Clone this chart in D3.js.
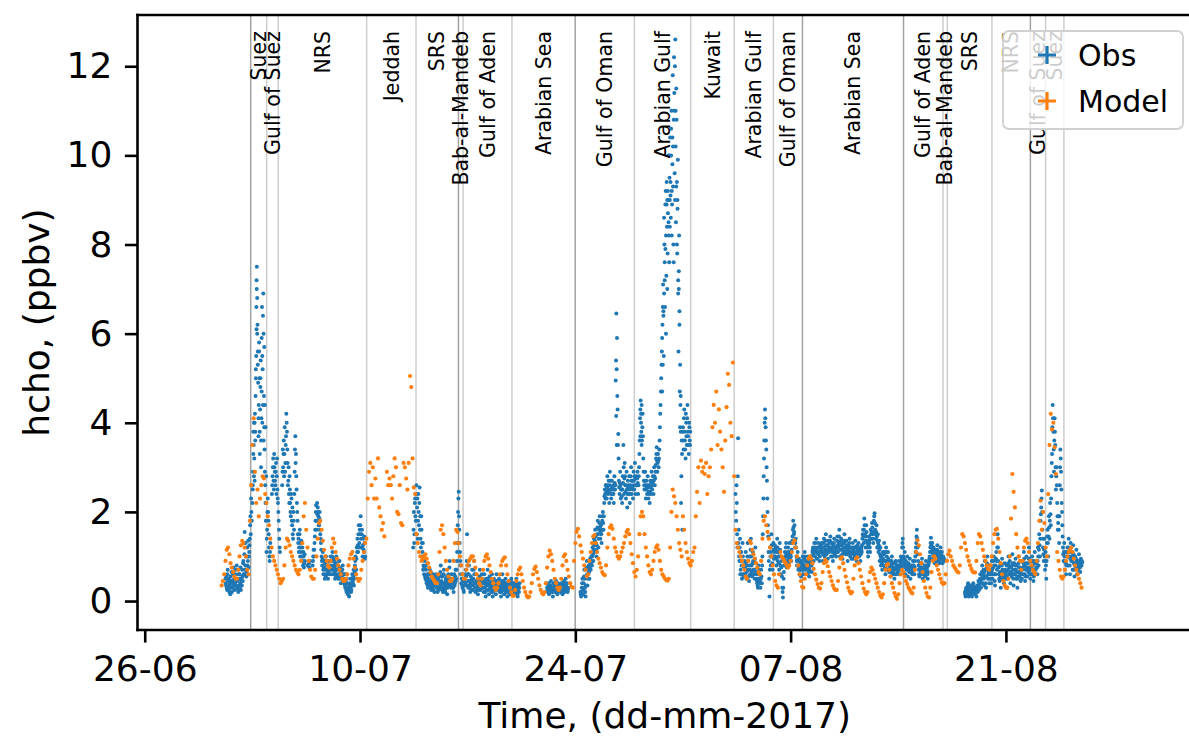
<!DOCTYPE html>
<html><head><meta charset="utf-8">
<script src="https://cdn.jsdelivr.net/npm/d3@7"></script>
<style>body{margin:0;background:#fff;} svg{display:block;font-family:"DejaVu Sans",sans-serif;}</style>
</head><body><svg id="chart" width="1189" height="737"></svg>
<script>
// ---------- data ----------
const tickDates = ["2017-06-26","2017-07-10","2017-07-24","2017-08-07","2017-08-21"];
const tickLabels = ["26-06","10-07","24-07","07-08","21-08"];
const yTicks = [0,2,4,6,8,10,12];

const regionNames = ["Suez","Gulf of Suez","NRS","Jeddah","SRS","Bab-al-Mandeb","Gulf of Aden","Arabian Sea",
  "Gulf of Oman","Arabian Gulf","Kuwait","Arabian Gulf","Gulf of Oman","Arabian Sea","Gulf of Aden",
  "Bab-al-Mandeb","SRS","NRS","Gulf of Suez","Suez"];
const regionBounds = ["2017-07-02T21:22","2017-07-03T22:19","2017-07-04T16:19","2017-07-10T10:19","2017-07-13T15:22",
  "2017-07-16T09:36","2017-07-16T16:48","2017-07-19T21:07","2017-07-23T23:46","2017-07-27T20:10","2017-07-31T12:00",
  "2017-08-03T07:55","2017-08-05T21:07","2017-08-07T18:29","2017-08-14T08:10","2017-08-16T21:50","2017-08-17T04:34",
  "2017-08-20T02:10","2017-08-22T14:10","2017-08-23T13:55","2017-08-24T18:29"];

// Obs: values on the hour, one row per day starting 2017-07-01
const obsStart = "2017-07-01T00:00:00Z";
const obsStepHours = 1;
const obsByDay = [
 [null,null,null,null,null,null,0.5,0.35,0.3,0.6,0.45,0.25,0.2,0.4,0.55,0.3,0.2,0.45,0.6,0.35,0.25,0.5,0.7,0.45],
 [0.3,0.5,0.2,0.35,0.6,0.4,0.25,0.5,0.7,0.45,0.9,0.6,1.55,0.8,1.0,0.65,1.2,0.9,0.75,1.1,1.4,1.9,2.3,1.8],
 [2.2,2.9,3.5,3.2,4.2,4.6,5.5,7.5,6.2,4.9,4.4,5.0,4.3,5.4,4.1,6.6,5.2,6.9,4.6,3.4,2.6,1.8,1.1,1.6],
 [2.3,1.8,1.2,0.9,1.3,null,null,2.6,3.0,2.7,3.3,2.9,2.6,3.1,2.8,2.5,2.2,1.8,1.4,1.1,null,null,null,2.9],
 [3.0,3.6,3.3,2.9,3.5,4.2,3.8,3.1,2.7,2.4,2.8,2.2,1.9,2.3,1.7,1.5,2.0,1.6,2.9,3.7,3.3,2.5,2.0,1.5],
 [1.4,1.2,1.6,1.3,1.1,0.9,1.2,0.8,1.0,0.85,0.9,null,null,null,0.8,null,null,0.75,0.9,null,null,null,0.8,1.0],
 [1.0,1.3,1.6,2.0,1.8,2.2,2.1,1.9,1.7,2.0,1.5,1.3,1.0,0.8,1.1,0.6,0.9,0.5,0.7,1.0,0.6,0.8,0.5,0.7],
 [0.8,0.6,1.0,0.7,0.9,1.1,0.8,0.6,0.9,0.5,0.7,1.0,0.6,0.8,0.5,0.7,0.9,0.6,0.4,0.7,0.5,0.8,0.6,0.4],
 [0.5,0.3,0.6,0.2,0.4,0.15,0.3,0.1,0.25,0.5,0.2,0.35,0.6,0.4,0.7,0.5,0.8,1.0,0.7,1.2,1.4,1.1,1.7,1.3],
 [1.5,1.9,1.2,1.6,1.0,1.4,1.1,1.3,1.0],
 [],
 [],
 [null,null,null,null,null,null,null,null,null,null,null,1.2,2.0,1.5,2.3,1.8,2.6,2.1,1.4,2.4,1.7,2.55,1.9,1.2],
 [1.6,1.0,1.3,0.8,0.6,0.9,0.5,0.7,0.4,0.6,0.3,0.5,0.35,0.7,0.45,0.25,0.55,0.3,0.6,0.4,0.2,0.5,0.35,0.6],
 [0.4,0.2,0.5,0.3,0.6,0.35,0.8,0.45,0.25,0.55,0.3,0.7,0.4,0.2,0.5,0.3,0.15,0.45,0.6,0.35,0.9,0.5,0.3,0.6],
 [0.3,0.5,0.2,0.6,0.4,0.7,0.5,0.9,1.3,2.0,2.45,1.6,1.1,0.8,0.4,0.6,0.3,0.5,0.2,0.45,0.6,0.7,0.35,1.5],
 [0.6,0.3,0.8,0.45,0.2,0.55,0.35,0.7,0.25,0.5,0.9,0.4,0.2,0.6,0.3,0.45,0.15,0.5,0.35,0.7,0.25,0.4,0.6,0.3],
 [0.4,0.2,0.6,0.3,0.1,0.5,0.25,0.7,0.35,0.15,0.55,0.3,0.45,0.2,0.6,0.1,0.35,0.5,0.25,0.4,0.15,0.6,0.3,0.45],
 [0.3,0.5,0.2,0.4,0.1,0.35,0.6,0.25,0.45,0.15,0.3,0.5,0.2,0.4,0.1,0.3,0.25,0.45,0.15,0.35,0.5,0.2,0.3,0.4],
 [0.3,0.15,0.4,0.2,0.5,0.25,0.1,0.35,0.2,0.4],
 [],
 [null,null,null,null,0.3,0.2,0.4,0.15,0.35,0.25,0.45,0.2,0.3,0.1,0.4,0.25,0.35,0.2,0.45,0.3,0.15,0.4,0.25,0.35],
 [0.3,0.2,0.4,0.25,0.15,0.35,0.45,0.2,0.3,0.5,0.25,0.4,0.2,0.3],
 [null,null,null,null,null,null,null,null,0.2,0.1,0.3,0.5,0.15,0.4,0.7,0.3,0.1,0.55,0.9,0.35,0.6,0.8,0.5,0.95],
 [0.7,1.0,0.8,1.2,0.9,1.4,1.1,1.6,1.3,1.0,1.5,1.8,1.2,1.6,1.9,1.4,1.7,1.3,1.8,2.0,1.6,2.2,2.5,2.3],
 [2.6,2.3,2.8,2.4,2.7,2.2,2.9,2.5,2.3,2.7,2.4,2.6,2.2,2.8,2.5,4.95,6.45,5.9,4.3,3.75,2.7,2.4,2.9,2.3],
 [2.5,2.2,2.8,3.5,2.4,3.1,2.6,2.3,2.9,2.1,2.7,2.4,2.8,2.2,2.6,3.0,2.4,2.7,2.3,2.9,2.5,3.1,2.4,2.8],
 [2.6,2.9,2.4,2.8,3.3,4.1,4.5,3.8,3.6,4.2,3.2,2.7,2.5,2.9,2.3,2.7,2.4,2.8,2.3,2.6,2.2,2.7,2.4,2.9],
 [2.5,2.8,2.4,3.0,2.6,2.9,3.2,3.45,2.9,3.3,3.0,3.4,3.9,4.4,5.0,5.6,6.2,7.1,5.5,8.0,6.6,9.2,7.3,8.4],
 [7.8,9.0,8.2,9.5,10.4,8.6,11.0,8.9,11.8,8.0,12.2,9.6,12.6,8.5,10.8,7.8,9.9,5.6,8.2,4.7,4.4,2.2,3.6,1.6],
 [3.9,3.4,4.3,3.6,3.2,4.0,3.5,4.4,3.7,3.3,3.9,3.5],
 [],
 [],
 [null,null,null,null,null,null,null,null,null,null,2.4,1.8,2.2,1.2,3.65,1.6,0.9,1.4,0.7,1.1,0.5,1.3,0.8,0.6],
 [0.9,0.6,1.1,0.5,0.8,1.3,0.7,0.45,1.0,0.6,1.4,0.8,0.55,1.1,0.7,0.9,0.5,1.2,0.65,0.6,0.4,0.3,0.8,0.6],
 [0.5,0.3,0.7,0.4,1.0,1.9,2.8,3.6,4.3,3.9,3.4,2.7,2.0,1.45,0.9,0.1,1.2,0.8,1.5,1.0,0.7,1.3,0.95,1.1],
 [1.0,1.2,0.8,1.4,0.9,1.1,0.7,1.3,1.0,0.6,0.9,0.3,0.08,0.5,0.8,1.1,0.9,1.3,0.75,1.0,1.2,0.85,1.1,0.95],
 [1.1,0.9,1.3,1.45,1.8,1.5,1.7,1.2,1.4,1.0,0.8,1.1,0.7,0.95,0.6,0.85,0.55,0.9,0.7,1.0,0.6,0.8,1.1,0.9],
 [0.7,0.9,0.6,1.0,0.75,0.55,0.9,0.8,1.0,0.65,1.1,1.2,0.9,1.3,1.0,1.15,1.4,0.95,1.2,1.05,1.3,0.9,1.1,1.25],
 [1.1,1.3,0.9,1.2,1.4,1.0,1.15,1.5,1.05,1.25,0.95,1.35,1.1,1.2,1.45,1.0,1.3,1.1,0.9,1.25,1.4,1.05,1.2,1.0],
 [1.2,1.45,1.1,1.3,1.6,1.0,1.25,1.4,1.15,0.95,1.3,1.1,1.5,1.2,1.05,1.35,1.15,0.9,1.25,1.1,1.4,1.0,1.2,0.95],
 [1.1,1.3,0.95,1.2,1.0,1.35,1.1,0.9,1.25,1.05,1.3,1.0,1.15,0.9,1.2,1.1,1.4,1.6,1.3,1.85,1.5,1.2,1.7,1.35],
 [1.2,1.0,1.45,1.3,1.1,1.6,1.4,1.75,1.5,1.3,1.8,1.97,1.6,1.4,1.7,1.2,1.5,1.1,1.35,0.9,1.2,0.8,1.0,0.7],
 [1.1,0.8,1.3,0.9,0.6,1.2,1.0,0.7,1.1,0.8,0.65,0.9,0.55,0.8,1.0,0.7,0.6,0.85,0.5,0.75,0.9,0.6,0.8,0.65],
 [0.7,0.9,0.6,0.8,1.0,0.75,1.2,1.4,1.0,0.8,1.1,0.6,0.9,0.7,1.0,0.55,0.85,0.65,0.95,0.5,0.8,0.7,0.6,0.9],
 [0.8,0.6,0.9,1.1,1.3,1.6,1.2,0.9,0.7,0.55,0.85,0.6,0.75,0.95,0.5,0.7,0.6,0.8,0.55,0.9,0.65,0.75,0.5,0.8],
 [0.9,1.0,1.2,1.42,1.1,1.3,0.95,1.2,1.0,0.85,1.15,0.9,1.05,1.25,0.9,1.1,0.85,1.0,1.2,0.95,1.1,0.85,1.0,0.9],
 [],
 [null,null,null,null,null,null,null,null,0.2,0.1,0.3,0.15,0.25,0.4,0.1,0.2,0.35,0.15,0.3,0.1,0.25,0.4,0.2,0.3],
 [0.15,0.3,0.1,0.35,0.2,0.45,0.25,0.4,0.6,0.3,0.5,0.8,0.4,0.7,0.35,0.9,0.55,0.3,0.75,1.0,0.5,0.65,0.4,0.8],
 [0.6,0.4,0.9,0.5,0.75,1.0,0.6,0.35,0.8,1.1,0.7,1.5,0.9,0.6,0.45,0.8,0.3,0.65,0.95,0.5,0.7,0.4,0.85,0.6],
 [0.5,0.8,0.3,0.7,1.0,0.6,0.9,0.4,0.75,0.55,1.05,0.7,0.35,0.85,0.6,0.95,0.5,0.8,0.3,0.65,1.0,0.55,0.75,0.45],
 [0.7,0.5,0.9,0.6,1.1,0.8,0.45,0.7,1.0,0.55,0.85,0.65,1.2,0.75,0.5,0.9,0.6,1.0,0.8,0.45,0.7,1.1,0.6,0.85],
 [0.9,0.6,1.2,0.8,1.5,1.0,1.8,2.1,2.48,1.6,1.2,0.9,1.4,0.7,1.1,0.5,1.3,1.6,1.0,1.9,1.4,2.2,1.7,2.8],
 [3.3,4.4,3.8,2.9,4.1,3.5,2.5,3.0,2.2,1.6,1.9,1.3,2.6,3.4,2.9,2.2,1.7,1.2,0.9,1.3,0.7,1.1,0.6,1.0],
 [1.2,0.8,1.4,1.0,0.6,1.3,0.9,1.1,0.7,1.25,0.85,0.55,1.0,0.75,1.15,0.6,0.9,0.7,1.05,0.8,0.65,0.95,0.8,0.87]
];
// Obs: values on the half hour (hh:30), same day rows
const obsHalfByDay = [
 [null,null,null,null,null,null,0.4,0.55,0.25,0.7,0.3,0.5,0.35,0.15,0.45,0.65,0.4,0.3,0.75,0.5,0.4,0.6,0.35,0.8],
 [0.45,0.25,0.6,0.5,0.3,0.75,0.45,0.35,0.55,0.85,0.6,1.05,0.7,1.3,0.55,1.0,0.8,1.35,1.0,1.25,1.7,1.5,2.0,2.6],
 [2.5,3.3,4.0,2.7,3.8,5.2,6.1,6.8,5.3,4.1,5.6,3.8,5.0,3.6,4.7,5.5,4.4,6.0,3.9,4.4,2.2,2.8,1.4,2.0],
 [2.0,1.5,1.0,1.1,null,null,2.4,2.8,3.2,2.5,3.0,2.7,2.9,2.4,3.2,2.3,2.0,1.6,1.2,null,null,null,2.6,3.4],
 [3.3,2.8,3.9,3.1,3.7,4.0,3.4,2.6,3.0,2.2,2.5,2.0,2.4,1.8,2.1,1.4,1.8,2.4,3.4,3.1,2.8,2.2,1.8,1.3],
 [1.1,1.5,1.0,1.2,1.35,1.0,0.9,1.1,0.75,1.05,null,null,null,null,null,null,0.85,null,null,null,null,null,0.9,1.15],
 [1.15,1.45,1.8,2.15,1.6,1.95,2.0,1.7,1.85,1.6,1.4,1.15,0.9,0.95,0.7,0.75,0.6,0.85,0.55,0.8,0.7,0.6,0.65,0.9],
 [0.7,0.9,0.8,0.6,1.0,0.7,0.95,0.75,0.65,0.85,0.55,0.8,0.7,0.55,0.9,0.6,0.75,0.5,0.65,0.55,0.7,0.45,0.5,0.6],
 [0.35,0.45,0.25,0.5,0.3,0.2,0.12,0.35,0.4,0.3,0.25,0.5,0.45,0.55,0.35,0.65,0.9,0.6,0.95,1.1,1.25,1.5,1.2,1.6],
 [1.7,1.4,1.5,1.2,1.25,1.15,1.45,0.95],
 [],
 [],
 [null,null,null,null,null,null,null,null,null,null,null,1.6,1.3,2.2,1.9,2.4,1.5,2.3,1.8,2.0,2.2,1.6,1.4,1.9],
 [1.3,1.1,0.7,1.0,0.75,0.55,0.8,0.45,0.55,0.35,0.45,0.6,0.4,0.3,0.65,0.4,0.35,0.5,0.25,0.45,0.35,0.55,0.4,0.3],
 [0.3,0.45,0.25,0.55,0.4,0.65,0.3,0.55,0.4,0.2,0.6,0.35,0.25,0.45,0.35,0.55,0.3,0.4,0.5,0.75,0.4,0.35,0.5,0.45],
 [0.4,0.3,0.45,0.35,0.55,0.45,0.7,1.1,1.7,2.3,1.9,1.3,0.9,0.6,0.5,0.35,0.45,0.25,0.35,0.5,0.4,0.55,0.9,0.8],
 [0.45,0.6,0.35,0.3,0.4,0.25,0.5,0.45,0.35,0.7,0.6,0.3,0.4,0.45,0.25,0.35,0.3,0.25,0.55,0.45,0.35,0.5,0.4,0.5],
 [0.3,0.45,0.4,0.2,0.35,0.4,0.45,0.5,0.25,0.4,0.35,0.4,0.3,0.45,0.25,0.2,0.45,0.35,0.3,0.25,0.4,0.45,0.35,0.25],
 [0.4,0.35,0.3,0.25,0.2,0.45,0.4,0.35,0.3,0.25,0.4,0.35,0.3,0.25,0.2,0.35,0.4,0.25,0.3,0.45,0.35,0.25,0.4,0.2],
 [0.25,0.3,0.35,0.3,0.4,0.15,0.25,0.3,0.3],
 [],
 [null,null,null,null,0.25,0.35,0.3,0.25,0.3,0.35,0.3,0.25,0.2,0.3,0.3,0.3,0.25,0.35,0.35,0.2,0.3,0.35,0.3,0.25],
 [0.25,0.35,0.3,0.2,0.25,0.4,0.3,0.25,0.4,0.35,0.3,0.3,0.25],
 [null,null,null,null,null,null,null,null,0.15,0.2,0.4,0.3,0.25,0.55,0.5,0.2,0.35,0.75,0.6,0.5,0.7,0.65,0.75,0.85],
 [0.85,0.9,1.0,1.05,1.15,1.25,1.35,1.45,1.15,1.25,1.65,1.5,1.4,1.75,1.65,1.55,1.5,1.6,1.9,1.75,1.9,2.35,2.4,2.6],
 [2.45,2.55,2.6,2.5,2.45,2.6,2.7,2.4,2.5,2.55,2.5,2.4,2.5,2.65,2.6,5.4,5.2,4.6,3.5,3.2,2.55,2.65,2.6,2.5],
 [2.35,2.5,2.65,3.0,2.75,2.8,2.45,2.6,2.5,2.4,2.55,2.6,2.5,2.4,2.8,2.7,2.55,2.5,2.6,2.7,2.8,2.75,2.6,2.6],
 [2.75,2.65,2.6,3.0,3.6,4.3,4.2,3.5,3.9,3.7,2.9,2.6,2.7,2.6,2.5,2.55,2.6,2.55,2.45,2.4,2.45,2.55,2.65,2.7],
 [2.65,2.6,2.7,2.8,2.75,3.05,3.3,3.15,3.1,3.15,3.2,3.6,4.2,4.7,5.3,5.9,6.6,6.4,6.9,7.6,7.9,8.2,8.9,9.0],
 [9.2,8.5,10.0,9.0,9.4,10.6,9.2,10.4,9.3,10.8,11.0,12.0,10.2,11.5,9.4,9.0,7.2,7.0,6.5,5.3,3.8,2.8,3.3,3.8],
 [3.6,4.1,3.8,3.4,4.2,3.7,4.1,3.8,3.5,4.0,3.6,3.8],
 [],
 [],
 [null,null,null,null,null,null,null,null,null,null,2.0,2.6,1.5,2.8,1.3,1.0,1.2,0.6,0.9,0.8,0.6,1.0,0.55,0.75],
 [0.75,0.85,0.7,0.65,1.0,0.9,0.55,0.8,0.7,1.15,1.0,0.65,0.85,0.9,0.6,0.7,0.95,0.85,0.5,0.45,0.35,0.5,0.7,0.45],
 [0.4,0.5,0.55,0.8,1.5,2.3,3.2,4.0,4.1,3.6,3.0,2.3,1.7,1.1,0.5,0.7,1.0,1.1,1.25,0.85,1.0,1.15,1.0,1.25],
 [1.15,0.95,1.1,1.2,1.0,0.85,1.0,1.15,0.8,0.75,0.55,0.2,0.3,0.65,0.95,1.0,1.2,1.05,0.9,1.1,1.0,0.95,1.3,1.05],
 [1.0,1.15,1.35,1.6,1.65,1.55,1.35,1.3,1.2,0.9,0.95,0.9,0.8,0.75,0.7,0.7,0.75,0.8,0.85,0.75,0.7,0.95,1.0,0.8],
 [0.8,0.75,0.85,0.9,0.65,0.7,0.85,0.95,0.8,0.9,1.15,1.05,1.1,1.2,1.1,1.3,1.15,1.1,1.1,1.2,1.1,1.0,1.2,1.15],
 [1.2,1.1,1.05,1.3,1.2,1.1,1.35,1.25,1.15,1.1,1.15,1.2,1.3,1.35,1.2,1.15,1.2,1.0,1.1,1.3,1.2,1.15,1.1,1.15],
 [1.35,1.25,1.2,1.45,1.3,1.15,1.35,1.25,1.05,1.15,1.2,1.3,1.35,1.1,1.2,1.25,1.05,1.1,1.15,1.3,1.2,1.1,1.05,1.1],
 [1.2,1.15,1.1,1.05,1.2,1.2,1.0,1.05,1.15,1.2,1.15,1.1,1.05,1.05,1.15,1.25,1.5,1.45,1.6,1.7,1.35,1.45,1.55,1.3],
 [1.1,1.25,1.35,1.2,1.4,1.5,1.55,1.65,1.4,1.55,1.9,1.75,1.5,1.55,1.45,1.35,1.3,1.25,1.15,1.05,1.0,0.95,0.85,0.9],
 [0.95,1.05,1.1,0.75,0.9,1.1,0.85,0.9,0.95,0.7,0.75,0.7,0.65,0.9,0.85,0.65,0.75,0.7,0.6,0.85,0.75,0.7,0.7,0.75],
 [0.8,0.75,0.7,0.9,0.85,0.95,1.3,1.2,0.9,0.95,0.85,0.75,0.8,0.85,0.8,0.7,0.75,0.8,0.7,0.65,0.75,0.65,0.75,0.8],
 [0.7,0.75,1.0,1.2,1.45,1.4,1.05,0.8,0.6,0.7,0.75,0.65,0.85,0.7,0.6,0.65,0.7,0.7,0.75,0.8,0.7,0.6,0.65,0.85],
 [0.95,1.1,1.3,1.25,1.2,1.15,1.05,1.1,0.9,1.0,1.05,0.95,1.15,1.1,1.0,0.95,0.9,1.1,1.05,1.0,0.95,0.95,0.9,0.95],
 [],
 [null,null,null,null,null,null,null,null,0.15,0.25,0.2,0.3,0.35,0.25,0.15,0.3,0.25,0.2,0.15,0.2,0.35,0.3,0.25,0.2],
 [0.25,0.2,0.25,0.3,0.35,0.3,0.35,0.5,0.45,0.4,0.65,0.55,0.6,0.5,0.65,0.7,0.4,0.55,0.85,0.7,0.6,0.5,0.6,0.7],
 [0.5,0.65,0.7,0.6,0.9,0.8,0.45,0.6,0.95,0.9,1.2,1.2,0.75,0.5,0.65,0.55,0.5,0.8,0.7,0.6,0.55,0.65,0.7,0.55],
 [0.65,0.55,0.5,0.85,0.8,0.75,0.65,0.6,0.65,0.8,0.85,0.5,0.6,0.7,0.8,0.7,0.65,0.55,0.5,0.85,0.75,0.65,0.6,0.6],
 [0.6,0.7,0.75,0.85,0.95,0.6,0.55,0.85,0.75,0.7,0.75,0.95,0.95,0.6,0.7,0.75,0.8,0.9,0.6,0.55,0.9,0.85,0.7,0.75],
 [0.75,0.9,1.0,1.15,1.25,1.4,1.95,2.3,2.0,1.4,1.05,1.15,1.0,0.9,0.8,0.9,1.45,1.3,1.45,1.65,1.8,1.95,2.3,3.1],
 [3.9,4.1,3.4,3.6,3.8,3.0,2.8,2.6,1.9,1.75,1.6,1.9,3.0,3.2,2.5,2.0,1.45,1.05,1.1,1.0,0.9,0.85,0.8,1.1],
 [1.0,1.1,1.2,0.8,0.95,1.1,1.0,0.9,1.0,1.05,0.7,0.8,0.85,0.95,0.9,0.75,0.8,0.85,0.9,0.75,0.8,0.85,0.9]
];
// extra obs readings inside the dense spikes (hours since obsStart)
const obsExtraHour = [48.5,49.5,50.5,51.5,52.5,53.5,54.3,54.5,54.8,55.5,56.5,57.5,58.5,59.5,60.5,61.5,62.5,63.5,64.5,65.5,66.5,67.5,68.5,69.5,
  615.8,616.6,653.5,654.5,655.5,
  687.5,688.5,689.5,690.5,691.5,692.5,693.5,694.5,695.5,
  696.5,697.5,698.5,699.5,700.5,701.5,702.5,703.5,704.5,705.5,706.5,707.5,708.5,709.5,710.5,711.5,712.5,713.5,714.5,715.5,716.5];
const obsExtraHcho = [2.6,3.8,2.8,4.0,3.6,5.0,6.6,7.2,7.0,6.0,5.6,3.7,5.8,3.3,4.8,3.0,5.9,4.0,6.4,3.6,5.7,2.9,3.9,2.2,
  4.15,3.5,3.7,4.0,4.4,
  4.7,5.3,6.5,8.6,7.2,8.9,6.0,9.4,7.0,
  8.7,10.0,7.6,8.4,9.1,10.0,8.2,9.8,10.2,7.6,11.4,9.0,11.0,9.3,8.0,8.8,6.9,7.4,6.2,3.9,4.6];

// Model: 2-hourly values, one row per day starting 2017-07-01
const modelStart = "2017-07-01T00:00:00Z";
const modelStepHours = 2;
const modelByDay = [
 [0.35,0.45,0.6,0.9,1.15,1.2,1.05,0.85,0.75,0.65,0.55,0.5],
 [0.5,0.7,1.0,1.25,1.35,1.3,1.2,1.0,0.7,0.6,1.8,2.6],
 [3.5,4.1,2.9,2.2,2.5,1.9,2.3,2.6,2.8,2.75,2.4,2.2],
 [1.9,1.7,1.4,1.2,1.0,0.9,0.8,0.7,0.6,0.5,0.4,0.45],
 [0.5,0.8,1.2,1.4,1.35,1.25,1.1,1.0,0.9,0.8,0.7,0.65],
 [0.6,0.7,0.9,1.3,1.9,2.2,1.6,1.2,0.9,0.7,0.55,0.5],
 [0.5,0.7,1.0,1.4,1.75,1.8,1.6,1.35,1.15,1.0,0.9,0.8],
 [0.75,0.9,1.2,1.4,1.3,1.1,0.95,0.8,0.7,0.6,0.5,0.45],
 [0.45,0.5,0.6,0.8,0.95,1.05,1.1,0.95,0.75,0.6,0.5,0.45],
 [0.5,0.7,0.9,1.1,1.3,1.4,2.3,2.9,3.1,2.6,3.0,2.3],
 [2.75,2.3,3.2,2.1,1.9,1.6,1.75,1.45,null,2.9,2.6,2.75],
 [2.6,2.3,2.8,3.2,3.0,2.0,1.95,2.6,1.75,1.7,3.1,3.0],
 [2.75,2.5,3.1,5.05,4.8,3.2,2.55,2.4,1.5,1.3,1.1,1.0],
 [0.9,0.95,1.0,1.05,0.95,0.85,0.75,0.65,0.55,0.5,0.45,0.4],
 [0.4,0.6,1.1,1.6,1.7,1.5,1.2,0.9,0.7,0.55,0.45,0.45],
 [0.5,0.9,1.3,1.6,1.55,1.3,1.0,0.8,0.6,0.5,0.5,0.7],
 [0.8,0.9,0.95,1.0,1.0,0.9,0.75,0.6,0.5,0.4,0.35,0.5],
 [0.7,0.9,1.0,1.05,0.95,0.8,0.65,0.5,0.4,0.3,0.25,0.3],
 [0.4,0.6,0.8,0.9,0.95,0.98,0.8,0.6,0.45,0.3,0.2,0.12],
 [0.12,0.25,0.45,0.6,0.7,0.75,0.6,0.45,0.3,0.2,0.12,0.08],
 [0.1,0.2,0.4,0.6,0.72,0.77,0.65,0.5,0.35,0.25,0.18,0.15],
 [0.2,0.4,0.75,1.0,1.13,1.05,0.9,0.7,0.5,0.4,0.3,0.25],
 [0.3,0.5,0.8,1.0,1.05,0.9,0.7,0.55,0.4,0.32,0.3,0.9],
 [1.3,1.55,1.62,1.45,1.25,1.1,0.95,0.8,0.7,0.55,0.6,0.9],
 [1.1,1.3,1.45,1.48,1.3,1.1,0.95,0.85,0.75,0.65,0.6,0.58],
 [0.8,1.2,1.5,1.65,1.7,1.62,1.4,1.2,1.1,1.0,0.95,1.0],
 [1.1,1.2,1.3,1.45,1.55,1.6,1.5,1.3,1.05,0.85,0.65,0.55],
 [0.7,1.0,1.5,1.9,2.0,1.9,1.5,1.2,1.0,0.8,0.65,0.6],
 [0.7,0.9,1.1,1.2,1.25,1.15,0.9,0.7,0.6,0.55,0.5,0.47],
 [0.46,0.5,1.2,2.0,2.5,2.35,2.2,1.9,1.6,1.3,1.15,1.0],
 [1.9,1.6,1.3,1.1,0.95,0.85,0.8,0.9,1.1,1.2,1.9,2.45],
 [3.0,2.2,3.15,2.9,3.0,2.85,3.1,2.4,2.8,3.0,3.4,3.9],
 [4.4,4.0,4.7,3.5,4.3,3.8,3.4,3.0,2.45,3.6,4.35,5.1],
 [4.85,4.0,3.7,5.35,2.8,1.6,1.3,1.2,1.1,1.0,0.9,0.8],
 [0.7,0.55,0.5,0.9,1.35,1.3,1.15,1.05,0.95,0.85,0.75,0.65],
 [0.6,0.9,1.4,1.8,1.9,1.7,1.55,1.4,1.2,1.0,0.8,0.6],
 [0.45,0.35,0.3,0.6,1.1,1.0,0.95,0.9,0.85,0.8,0.75,0.8],
 [0.9,1.1,1.3,1.36,1.2,1.0,0.8,0.6,0.45,0.32,0.3,0.5],
 [0.6,0.8,0.95,1.0,0.95,0.85,0.72,0.6,0.48,0.38,0.3,0.28],
 [0.4,0.65,0.85,0.93,0.88,0.78,0.65,0.55,0.45,0.35,0.28,0.25],
 [0.25,0.45,0.75,0.95,0.98,0.85,0.7,0.55,0.42,0.3,0.22,0.17],
 [0.2,0.5,0.8,0.95,0.98,0.85,0.7,0.55,0.4,0.28,0.2,0.15],
 [0.2,0.45,0.65,0.75,0.7,0.6,0.5,0.4,0.3,0.2,0.12,0.08],
 [0.15,0.4,0.7,0.8,0.83,0.7,0.55,0.4,0.3,0.18,0.1,0.05],
 [0.15,0.4,0.6,0.7,0.65,0.55,0.45,0.38,0.3,0.25,0.2,0.17],
 [0.3,0.7,1.1,1.36,1.25,1.05,0.85,0.65,0.45,0.3,0.18,0.1],
 [0.08,0.3,0.65,0.9,1.0,0.95,0.8,0.7,0.6,0.5,0.42,0.38],
 [0.4,0.6,0.9,1.05,1.13,1.0,0.9,0.8,0.75,0.7,0.66,0.64],
 [0.8,1.2,1.5,1.45,1.3,1.15,1.0,0.9,0.8,0.72,0.66,0.64],
 [0.64,0.9,1.3,1.5,1.45,1.3,1.15,1.0,0.9,0.8,0.72,0.7],
 [0.8,1.0,1.3,1.5,1.6,1.62,1.4,1.1,0.85,0.6,0.45,0.35],
 [0.3,0.3,0.5,1.0,1.85,2.85,2.45,2.1,1.5,1.2,1.0,0.9],
 [0.7,0.9,1.2,1.35,1.4,1.3,1.1,0.9,0.8,0.7,0.65,0.6],
 [0.9,1.3,1.8,2.25,1.6,2.0,1.75,1.2,1.0,2.4,3.5,4.2],
 [3.85,4.0,3.45,2.85,1.1,0.9,0.7,0.55,0.5,0.55,0.7,0.9],
 [1.0,1.1,1.15,1.2,1.1,0.95,0.8,0.7,0.6,0.5,0.4,0.3]
];

// ---------- drawing ----------
const L = 137.5, R = 1192, T = 15, B = 630;
const FONT = "DejaVu Sans, sans-serif";
const svg = d3.select("#chart");
const HOUR = 3600e3;
const utc = s => new Date(s.length === 10 ? s + "T00:00:00Z" : (s.endsWith("Z") ? s : s + ":00Z"));

const x = d3.scaleUtc().domain([new Date("2017-06-25T12:43:00Z"), new Date("2017-09-02T02:24:00Z")]).range([L, R]);
const y = d3.scaleLinear().domain([-0.65, 13.15]).range([B, T]);

function toPoints(rows, start, step, offsetHours) {
  const t0 = Date.parse(start), pts = [];
  rows.forEach((row, di) => row.forEach((v, j) => {
    if (v != null) pts.push({t: new Date(t0 + (di * 24 + j * step + offsetHours) * HOUR), v});
  }));
  return pts;
}
const obsPts = toPoints(obsByDay, obsStart, obsStepHours, 0)
  .concat(toPoints(obsHalfByDay, obsStart, obsStepHours, 0.5));
obsExtraHour.forEach((hh, i) => obsPts.push({t: new Date(Date.parse(obsStart) + hh * HOUR), v: obsExtraHcho[i]}));
const modelPts = toPoints(modelByDay, modelStart, modelStepHours, 0);

// region boundary lines
const darkLines = new Set([0, 5, 8, 13, 14, 18]);
const bounds = regionBounds.map(utc);
svg.append("g").selectAll("line").data(bounds).join("line")
  .attr("x1", d => x(d)).attr("x2", d => x(d)).attr("y1", T).attr("y2", B)
  .attr("stroke", (d, i) => darkLines.has(i) ? "#a2a2a2" : "#cdcdcd").attr("stroke-width", 1.5);

// points
svg.append("g").selectAll("circle").data(obsPts).join("circle")
  .attr("cx", d => x(d.t)).attr("cy", d => y(d.v)).attr("r", 2.0).attr("fill", "#1f77b4");
svg.append("g").selectAll("circle").data(modelPts).join("circle")
  .attr("cx", d => x(d.t)).attr("cy", d => y(d.v)).attr("r", 2.1).attr("fill", "#ff7f0e");

// region labels
svg.append("g").selectAll("text").data(regionNames).join("text")
  .attr("transform", (d, i) => {
    const mx = (x(bounds[i]) + x(bounds[i + 1])) / 2;
    return `translate(${mx},31) rotate(-90)`;
  })
  .attr("text-anchor", "end").attr("dy", "0.35em")
  .attr("font-family", FONT).attr("font-size", 20.5).attr("fill", "#000")
  .text(d => d);

// axes
const gx = svg.append("g").attr("transform", `translate(0,${B})`)
  .call(d3.axisBottom(x).tickValues(tickDates.map(utc)).tickFormat((d, i) => tickLabels[i]).tickSize(12.6).tickPadding(12.6));
gx.select(".domain").remove();
gx.attr("font-family", FONT).attr("font-size", 36);
gx.selectAll("line").attr("stroke", "#000").attr("stroke-width", 2.6);
gx.selectAll("text").attr("fill", "#000");

const gy = svg.append("g").attr("transform", `translate(${L},0)`)
  .call(d3.axisLeft(y).tickValues(yTicks).tickFormat(d3.format("d")).tickSize(12.6).tickPadding(12.6));
gy.select(".domain").remove();
gy.attr("font-family", FONT).attr("font-size", 36);
gy.selectAll("line").attr("stroke", "#000").attr("stroke-width", 2.6);
gy.selectAll("text").attr("fill", "#000");

// spines
const sp = svg.append("g").attr("stroke", "#000").attr("stroke-width", 2.6).attr("stroke-linecap", "square");
sp.append("line").attr("x1", L).attr("x2", L).attr("y1", T).attr("y2", B);
sp.append("line").attr("x1", L).attr("x2", R).attr("y1", B).attr("y2", B);
sp.append("line").attr("x1", L).attr("x2", R).attr("y1", T).attr("y2", T);

// axis titles
svg.append("text").attr("x", (L + R) / 2).attr("y", 728).attr("text-anchor", "middle")
  .attr("font-family", FONT).attr("font-size", 36).attr("fill", "#000").text("Time, (dd-mm-2017)");
svg.append("text").attr("transform", `translate(49,${(T + B) / 2}) rotate(-90)`).attr("text-anchor", "middle")
  .attr("font-family", FONT).attr("font-size", 36).attr("fill", "#000").text("hcho, (ppbv)");

// legend
const lg = svg.append("g");
lg.append("rect").attr("x", 1003).attr("y", 31).attr("width", 180).attr("height", 98).attr("rx", 6)
  .attr("fill", "#fff").attr("fill-opacity", 0.8).attr("stroke", "#d0d0d0").attr("stroke-width", 1.8);
const legendItems = [{name: "Obs", color: "#1f77b4"}, {name: "Model", color: "#ff7f0e"}];
legendItems.forEach((it, i) => {
  const cy = 55 + i * 46;
  lg.append("path").attr("d", `M${1047 - 9},${cy}H${1047 + 9}M1047,${cy - 9}V${cy + 9}`)
    .attr("stroke", it.color).attr("stroke-width", 3.2);
  lg.append("text").attr("x", 1078).attr("y", cy + 11).attr("font-family", FONT).attr("font-size", 30)
    .attr("fill", "#000").text(it.name);
});
</script>
</body></html>
